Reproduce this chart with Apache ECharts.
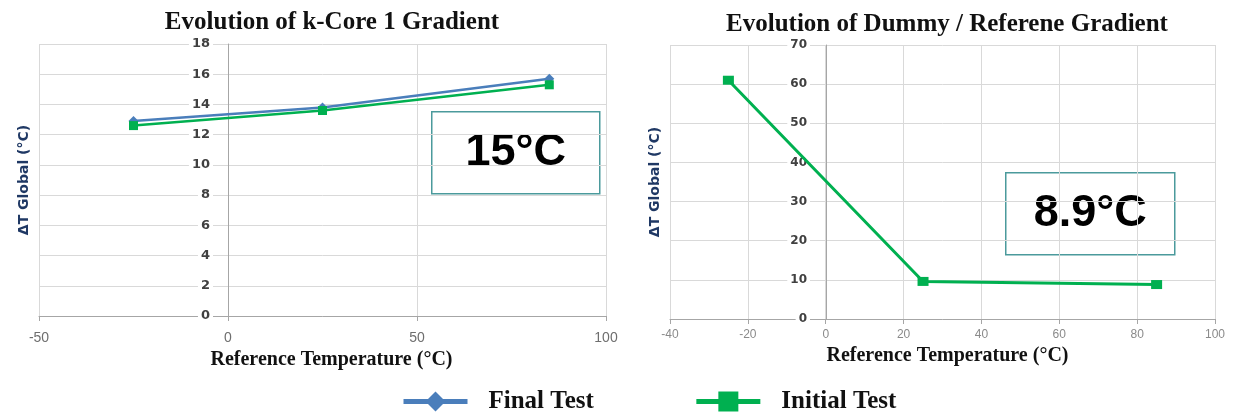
<!DOCTYPE html>
<html>
<head>
<meta charset="utf-8">
<script src="https://cdn.jsdelivr.net/npm/echarts@6/dist/echarts.min.js"></script>
<style>
html,body{margin:0;padding:0;background:#fff;}
#chart{width:1236px;height:414px;}
</style>
</head>
<body>
<div id="chart"></div>
<script>
// ---- data ----
const refTemps = [-25, 25, 85];
const kCoreFinal = [12.9, 13.8, 15.7];
const kCoreInitial = [12.6, 13.6, 15.3];
const dummyInitial = [61, 9.6, 8.8];
const seriesNames = ['Final Test', 'Initial Test'];
const titles = ['Evolution of k-Core 1 Gradient', 'Evolution of Dummy / Referene Gradient'];
const boxTexts = ['15°C', '8.9°C'];
const xName = 'Reference Temperature (°C)';
const yName = 'ΔT Global (°C)';

const BLUE = '#4a7ebb';
const GREEN = '#00b050';
const pts = arr => refTemps.map((x, i) => [x, arr[i]]);

const chart = echarts.init(document.getElementById('chart'), null, {renderer: 'canvas'});

const serif = '"Liberation Serif", "Times New Roman", serif';
const sans = '"Liberation Sans", Arial, sans-serif';

function xAxis(grid, min, max, interval, opts) {
  return {
    type: 'value', gridIndex: grid, min: min, max: max, interval: interval,
    name: xName, nameLocation: 'middle', nameGap: opts.nameGap,
    nameTextStyle: {fontFamily: serif, fontWeight: 'bold', fontSize: 20, color: '#111', padding: opts.namePad},
    axisLine: {show: true, onZero: false, lineStyle: {color: '#a6a6a6', width: 1}},
    axisTick: {show: true, length: 5, lineStyle: {color: '#a6a6a6'}},
    axisLabel: {color: opts.labelColor, fontFamily: sans, fontSize: opts.labelSize, margin: opts.labelMargin},
    splitLine: {show: true, lineStyle: {color: '#d9d9d9', width: 1}}
  };
}
function yAxis(grid, min, max, interval, opts) {
  return {
    type: 'value', gridIndex: grid, min: min, max: max, interval: interval,
    position: 'left', offset: opts.offset,
    name: yName, nameLocation: 'middle', nameGap: opts.nameGap, nameRotate: 90,
    nameTextStyle: {fontFamily: '"DejaVu Sans", sans-serif', fontWeight: 'bold', fontSize: 14, color: '#1f3864'},
    axisLine: {show: true, onZero: false, lineStyle: {color: '#a6a6a6', width: 1}},
    axisTick: {show: false},
    axisLabel: {color: '#404040', fontFamily: '"DejaVu Sans", sans-serif', fontWeight: 'bold', fontSize: opts.labelSize,
      margin: opts.labelMargin, backgroundColor: '#fff', padding: [1, 3]},
    splitLine: {show: true, lineStyle: {color: '#d9d9d9', width: 1}}
  };
}

const option = {
  backgroundColor: '#fff',
  animation: false,
  title: [
    {text: titles[0], left: 327, top: 5, textAlign: 'center',
      textStyle: {fontFamily: serif, fontWeight: 'bold', fontSize: 25, color: '#111'}},
    {text: titles[1], left: 942, top: 7, textAlign: 'center',
      textStyle: {fontFamily: serif, fontWeight: 'bold', fontSize: 25, color: '#111'}}
  ],
  grid: [
    {left: 39, top: 44, width: 567, height: 272, containLabel: false, outerBoundsMode: 'none'},
    {left: 670, top: 45, width: 545, height: 274, containLabel: false, outerBoundsMode: 'none'}
  ],
  xAxis: [
    xAxis(0, -50, 100, 50, {nameGap: 33, namePad: [0, 0, 0, 18], labelColor: '#6e6e6e', labelSize: 14, labelMargin: 15}),
    xAxis(1, -40, 100, 20, {nameGap: 26, namePad: [0, 0, 0, 10], labelColor: '#8a8a8a', labelSize: 12, labelMargin: 10})
  ],
  yAxis: [
    yAxis(0, 0, 18, 2, {offset: -189, nameGap: 197, labelSize: 13, labelMargin: 15}),
    yAxis(1, 0, 70, 10, {offset: -156, nameGap: 164, labelSize: 12, labelMargin: 16})
  ],
  legend: {
    left: 396, top: 384,
    itemWidth: 64, itemHeight: 25, itemGap: 100,
    data: seriesNames,
    lineStyle: {width: 5},
    textStyle: {fontFamily: serif, fontWeight: 'bold', fontSize: 25, color: '#111', padding: [0, 0, 0, 16]}
  },
  series: [
    {name: seriesNames[0], type: 'line', xAxisIndex: 0, yAxisIndex: 0, data: pts(kCoreFinal),
      symbol: 'diamond', symbolSize: 10, color: BLUE, lineStyle: {color: BLUE, width: 2.5}, itemStyle: {color: BLUE}, z: 3},
    {name: seriesNames[1], type: 'line', xAxisIndex: 0, yAxisIndex: 0, data: pts(kCoreInitial),
      symbol: 'rect', symbolSize: 9, color: GREEN, lineStyle: {color: GREEN, width: 2.5}, itemStyle: {color: GREEN}, z: 4},
    {name: seriesNames[1], type: 'line', xAxisIndex: 1, yAxisIndex: 1, data: pts(dummyInitial),
      symbol: 'rect', symbolSize: [11, 9], color: GREEN, lineStyle: {color: GREEN, width: 3}, itemStyle: {color: GREEN}, z: 4}
  ],
  graphic: [
    {type: 'group', left: 431, top: 111, z: 10, children: [
      {type: 'rect', shape: {x: 0, y: 0, width: 168, height: 82}, style: {fill: '#fff', stroke: '#4b9a9c', lineWidth: 1.5}},
      {type: 'text', x: 84, y: 41, style: {text: boxTexts[0], font: 'bold 45px ' + sans, fill: '#000', align: 'center', verticalAlign: 'middle'}}
    ]},
    {type: 'group', left: 1005, top: 172, z: 10, children: [
      {type: 'rect', shape: {x: 0, y: 0, width: 169, height: 82}, style: {fill: '#fff', stroke: '#4b9a9c', lineWidth: 1.5}},
      {type: 'text', x: 84.5, y: 41, style: {text: boxTexts[1], font: 'bold 45px ' + sans, fill: '#000', align: 'center', verticalAlign: 'middle'}}
    ]}
  ]
};
chart.setOption(option);
</script>
</body>
</html>
